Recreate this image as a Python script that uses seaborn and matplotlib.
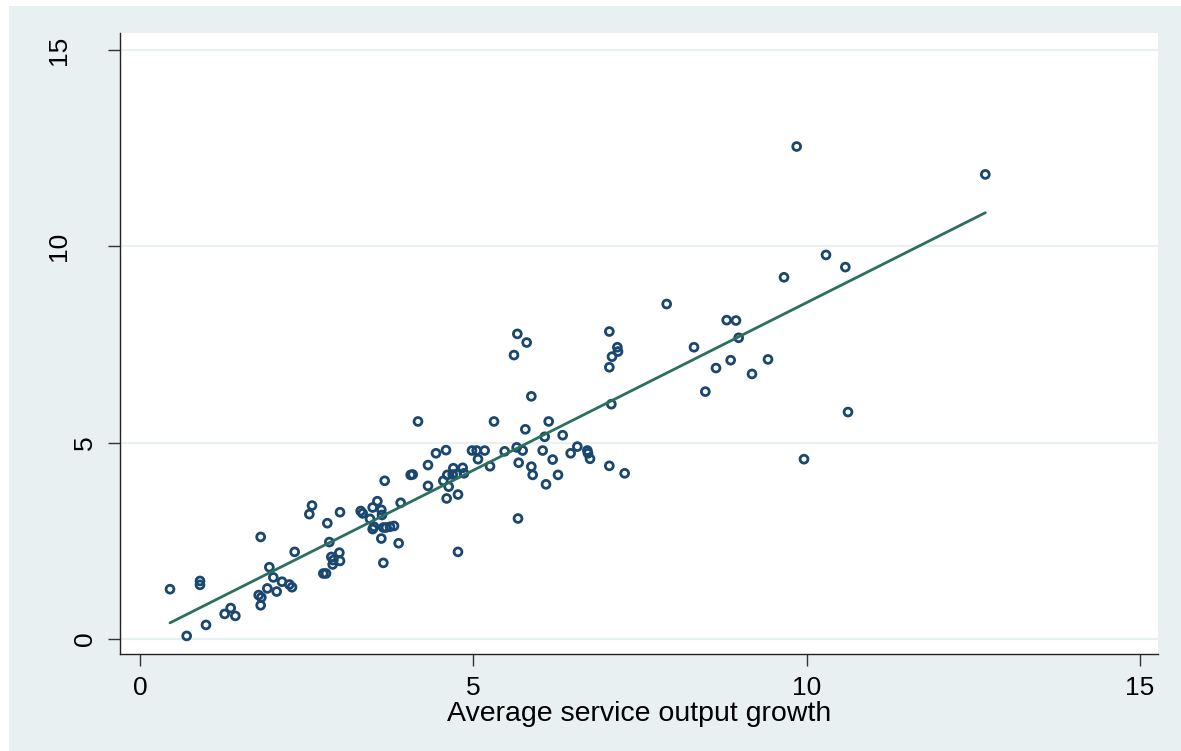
import numpy as np
import pandas as pd
import matplotlib.pyplot as plt
from matplotlib.patches import Rectangle
import seaborn as sns

# values
service_growth = [0.45, 0.70, 0.90, 0.90, 0.99, 1.27, 1.36, 1.43, 1.81, 1.78,
                  1.82, 1.81, 1.94, 1.91, 2.00, 2.05, 2.13, 2.24, 2.28, 2.32,
                  2.54, 2.58, 2.75, 2.79, 2.81, 2.84, 2.87, 2.90, 2.89, 2.99,
                  3.00, 3.00, 3.31, 3.34, 3.45, 3.49, 3.56, 3.62, 3.63, 3.49,
                  3.51, 3.62, 3.65, 3.67, 3.65, 3.69, 3.75, 3.81, 3.88, 3.91,
                  4.06, 4.09, 4.17, 4.32, 4.32, 4.44, 4.59, 4.55, 4.60, 4.63,
                  4.61, 4.70, 4.77, 4.69, 4.75, 4.77, 4.84, 4.86, 4.98, 5.05,
                  5.07, 5.17, 5.25, 5.31, 5.47, 5.61, 5.66, 5.67, 5.65, 5.68,
                  5.74, 5.78, 5.80, 5.87, 5.87, 5.89, 6.04, 6.07, 6.09, 6.13,
                  6.19, 6.27, 6.34, 6.46, 6.56, 6.71, 6.72, 6.75, 7.04, 7.04,
                  7.04, 7.07, 7.08, 7.16, 7.17, 7.27, 7.90, 8.31, 8.48, 8.64,
                  8.80, 8.86, 8.94, 8.98, 9.18, 9.42, 9.66, 9.85, 9.96, 10.29,
                  10.58, 10.62, 12.68]
other_growth = [1.27, 0.08, 1.48, 1.38, 0.36, 0.64, 0.79, 0.59, 2.60, 1.12,
                1.06, 0.86, 1.83, 1.29, 1.57, 1.21, 1.46, 1.39, 1.32, 2.22,
                3.18, 3.40, 1.67, 1.67, 2.95, 2.47, 2.09, 2.01, 1.90, 2.20,
                1.99, 3.23, 3.26, 3.20, 3.06, 3.35, 3.51, 3.29, 3.16, 2.80,
                2.86, 2.56, 1.94, 4.03, 2.84, 2.84, 2.86, 2.88, 2.44, 3.47,
                4.18, 4.19, 5.54, 3.90, 4.43, 4.73, 4.81, 4.03, 3.58, 3.88,
                4.18, 4.35, 3.68, 4.19, 4.20, 2.22, 4.36, 4.22, 4.80, 4.80,
                4.58, 4.80, 4.40, 5.54, 4.78, 7.23, 7.77, 3.07, 4.88, 4.49,
                4.80, 5.34, 7.55, 4.39, 6.18, 4.18, 4.80, 5.15, 3.94, 5.54,
                4.57, 4.18, 5.19, 4.73, 4.90, 4.80, 4.73, 4.59, 7.83, 6.92,
                4.41, 5.98, 7.19, 7.43, 7.32, 4.22, 8.53, 7.43, 6.30, 6.90,
                8.12, 7.10, 8.11, 7.67, 6.75, 7.12, 9.21, 12.54, 4.58, 9.78,
                9.47, 5.78, 11.83]
x_ticks = [0, 5, 10, 15]
y_ticks = [0, 5, 10, 15]
x_title = "Average service output growth"

df = pd.DataFrame({"service": service_growth, "other": other_growth})

sns.set_style("white")
plt.rcParams["font.family"] = ["Liberation Sans", "DejaVu Sans"]

W, H = 1181, 751
fig = plt.figure(figsize=(W / 100, H / 100), dpi=100, facecolor="white")
# light Stata-like background with a thin white strip at left/top
fig.add_artist(Rectangle((9 / W, 0), 1 - 9 / W, 1 - 6 / H, transform=fig.transFigure,
                         facecolor="#E8F0F2", edgecolor="none", zorder=-10))
ax = fig.add_axes([120 / W, (H - 654) / H, (1158 - 120) / W, (654 - 33) / H])
ax.set_facecolor("white")

navy = "#1A476F"
sns.regplot(data=df, x="service", y="other", ci=None, ax=ax,
            scatter_kws=dict(s=32, color=navy, facecolors="none", edgecolors=navy,
                             linewidths=2.0, alpha=1, zorder=3),
            line_kws=dict(color="#2D6F5F", lw=2.0, zorder=4))

ax.set_xlim(-0.30, 15.27)
ax.set_ylim(-0.38, 15.43)
ax.set_xticks(x_ticks)
ax.set_yticks(y_ticks)
ax.set_xlabel(x_title, fontsize=20.5, labelpad=1, color="black")
ax.set_ylabel("")

ax.grid(False)
ax.yaxis.grid(True, color="#E8F0F2", lw=1.6)
ax.set_axisbelow(True)

for side in ["top", "right"]:
    ax.spines[side].set_visible(False)
for side in ["left", "bottom"]:
    ax.spines[side].set_color("#222222")
    ax.spines[side].set_linewidth(1.0)

ax.tick_params(axis="both", direction="out", length=8.5, width=1, color="#333333",
               labelsize=19, labelcolor="black", left=True, bottom=True)
ax.tick_params(axis="x", pad=7)
ax.tick_params(axis="y", labelrotation=90)
for lbl in ax.get_yticklabels():
    lbl.set_va("center")
# two-digit labels sit further from the axis in the reference
for tick, val in zip(ax.yaxis.get_major_ticks(), y_ticks):
    tick.set_pad(26.5 if val >= 10 else 8)

fig.savefig("out.png", dpi=100)
